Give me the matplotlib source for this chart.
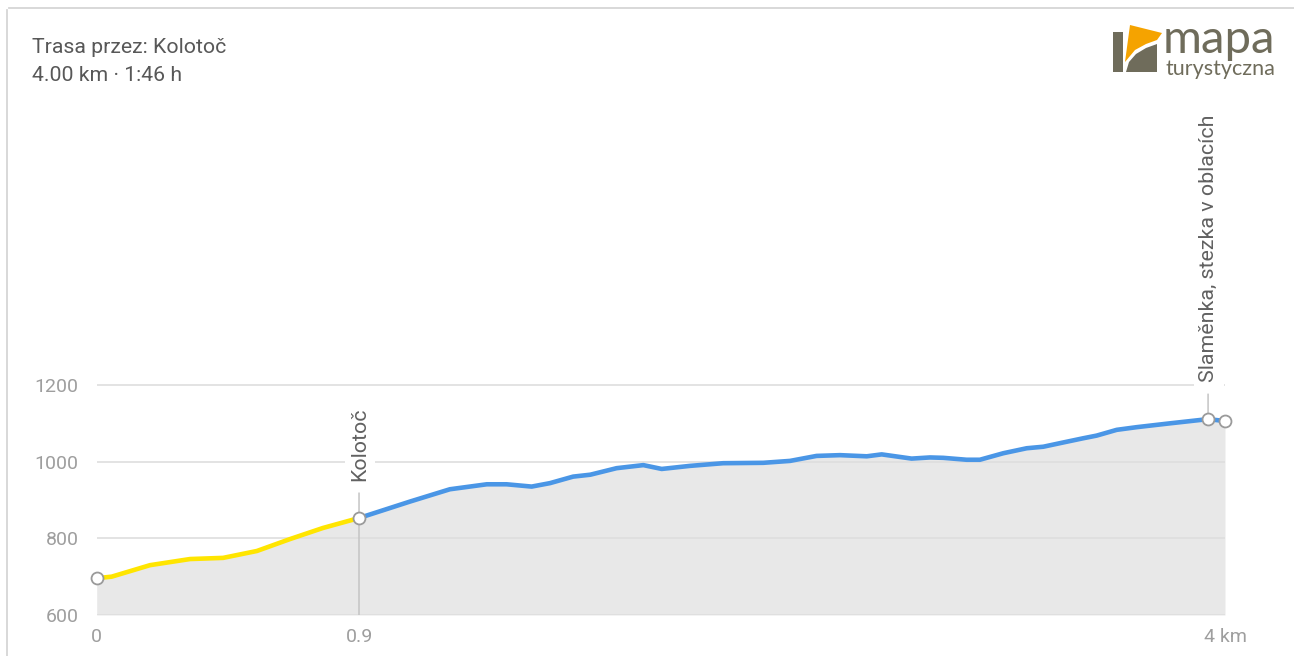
import matplotlib
matplotlib.use("Agg")
import matplotlib.pyplot as plt
from matplotlib.patches import Polygon

# ---- data ----
dist_km = [0.000, 0.053, 0.189, 0.331, 0.448, 0.568, 0.685, 0.802, 0.930,
           1.111, 1.252, 1.383, 1.453, 1.542, 1.607, 1.689, 1.750, 1.843,
           1.938, 2.003, 2.103, 2.221, 2.363, 2.458, 2.552, 2.635, 2.730,
           2.783, 2.889, 2.954, 3.001, 3.084, 3.131, 3.214, 3.297, 3.356,
           3.426, 3.497, 3.545, 3.616, 3.687, 3.805, 3.940, 4.000]
elev_m = [696, 700, 730, 746, 749, 767, 798, 827, 853,
          896, 928, 941, 941, 935, 944, 961, 966, 983,
          991, 981, 989, 996, 997, 1002, 1015, 1017, 1014,
          1019, 1008, 1011, 1010, 1005, 1005, 1022, 1035, 1039,
          1050, 1061, 1068, 1083, 1090, 1100, 1111, 1106]
split_index = 8  # Kolotoč
waypoint_names = ["Kolotoč", "Slaměnka, stezka v oblacích"]
waypoint_idx = [8, 42]
y_ticks = [600, 800, 1000, 1200]
x_tick_pos = [0.0, 0.930, 4.0]
x_tick_labels = ["0", "0.9", "4 km"]
title_lines = ["Trasa przez: Kolotoč", "4.00 km · 1:46 h"]

W, H = 1294, 656
fig = plt.figure(figsize=(W / 100, H / 100), dpi=100)
fig.patch.set_facecolor("white")
FONT = ["Roboto", "DejaVu Sans"]

# overlay for card/title/logo in pixel coordinates
ov = fig.add_axes([0, 0, 1, 1], zorder=0)
ov.set_xlim(0, W)
ov.set_ylim(H, 0)
ov.axis("off")
ov.plot([7, 7], [10, H], color="#d6d6d6", lw=1.3)
ov.plot([9, W], [8, 8], color="#d6d6d6", lw=1.3)
ov.text(32, 53, title_lines[0], fontsize=15.3, color="#585858", family=FONT, va="baseline")
ov.text(32, 81, title_lines[1], fontsize=15.3, color="#585858", family=FONT, va="baseline")

# logo
olive = "#6f6c5b"
ov.add_patch(Polygon([[1113, 32], [1123, 32], [1123, 72], [1113, 72]], closed=True, color=olive, lw=0))
ov.add_patch(Polygon([[1126, 72], [1157, 72], [1157, 44], [1146, 48], [1136, 54], [1129, 62]],
                     closed=True, color=olive, lw=0))
ov.add_patch(Polygon([[1130, 25], [1162, 33], [1157, 40], [1146, 44], [1135, 50], [1125, 62]],
                     closed=True, color="#f5a300", lw=0))
ov.text(1163, 53, "mapa", fontsize=34, color=olive, family=["Lato", "DejaVu Sans"],
        va="baseline")
ov.text(1166, 75, "turystyczna", fontsize=15.5, color=olive, family=["Lato", "DejaVu Sans"],
        va="baseline")

# main chart
left, right = 96.7, 1225
bottom_px, top_px = 615, 110
ax = fig.add_axes([left / W, (H - bottom_px) / H, (right - left) / W, (bottom_px - top_px) / H], zorder=1)
ax.patch.set_alpha(0)
px_per_m = 230 / 600.0
ax.set_xlim(0, 4.0)
ax.set_ylim(600, 600 + (bottom_px - top_px) / px_per_m)
for s in ax.spines.values():
    s.set_visible(False)

ax.fill_between(dist_km, elev_m, 600, color="#e8e8e8", lw=0, zorder=1)
for yv in y_ticks:
    ax.axhline(yv, color="#dedede", lw=1.2, zorder=1.5)

ax.plot(dist_km[:split_index + 1], elev_m[:split_index + 1], color="#ffe500", lw=3.3,
        solid_capstyle="round", solid_joinstyle="round", zorder=3)
ax.plot(dist_km[split_index:], elev_m[split_index:], color="#4a96e6", lw=3.3,
        solid_capstyle="round", solid_joinstyle="round", zorder=3)

# waypoint lines and labels
kx, ke = dist_km[waypoint_idx[0]], elev_m[waypoint_idx[0]]
ax.plot([kx, kx], [600, ke], color="#c4c4c4", lw=1.1, zorder=2)
for name, i in zip(waypoint_names, waypoint_idx):
    x, e = dist_km[i], elev_m[i]
    ax.annotate("", xy=(x, e), xytext=(0, 18), textcoords="offset points",
                arrowprops=dict(arrowstyle="-", color="#c4c4c4", lw=1.1, shrinkA=0, shrinkB=0),
                zorder=2)
    ax.annotate(name, xy=(x, e), xytext=(0.5, 27), textcoords="offset points",
                rotation=90, ha="center", va="bottom", fontsize=15.4, color="#616161",
                family=FONT, zorder=4,
                bbox=dict(boxstyle="square,pad=0.25", fc="white", ec="none"))

# markers
mk_idx = [0] + waypoint_idx + [len(dist_km) - 1]
ax.plot([dist_km[i] for i in mk_idx], [elev_m[i] for i in mk_idx], "o", ms=8.6,
        mfc="white", mec="#9a9a9a", mew=1.3, zorder=5, clip_on=False)

ax.set_yticks(y_ticks)
ax.set_yticklabels([str(v) for v in y_ticks])
ax.set_xticks(x_tick_pos)
ax.set_xticklabels(x_tick_labels)
ax.tick_params(axis="y", length=0, pad=13, labelsize=14, labelcolor="#9e9e9e")
ax.tick_params(axis="x", length=0, pad=9, labelsize=14, labelcolor="#9e9e9e")
for lab in ax.get_xticklabels() + ax.get_yticklabels():
    lab.set_family(FONT)

fig.savefig("out.png", dpi=100, facecolor="white")
